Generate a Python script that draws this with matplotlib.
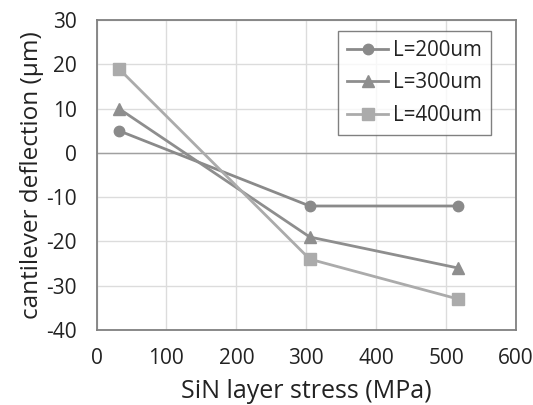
import matplotlib.pyplot as plt
import matplotlib.ticker as mticker
import numpy as np

plt.rcParams['font.family'] = ['Open Sans', 'DejaVu Sans']
plt.rcParams['axes.unicode_minus'] = False

# data
stress = [32, 305, 517]
defl_200 = [5, -12, -12]
defl_300 = [10, -19, -26]
defl_400 = [19, -24, -33]
labels = ['L=200um', 'L=300um', 'L=400um']

fig = plt.figure(figsize=(5.33, 4.05), dpi=100)
ax = fig.add_axes([96.5 / 533, 1 - 330 / 405, (516 - 96.5) / 533, (330 - 20) / 405])

ax.plot(stress, defl_200, color='#8a8a8a', lw=2.0, marker='o', ms=7.5, label=labels[0], zorder=3)
ax.plot(stress, defl_300, color='#8e8e8e', lw=2.0, marker='^', ms=8.5, label=labels[1], zorder=3)
ax.plot(stress, defl_400, color='#ababab', lw=2.0, marker='s', ms=8.5, label=labels[2], zorder=3)

ax.set_xlim(0, 600)
ax.set_ylim(-40, 30)
ax.set_xticks(np.arange(0, 601, 100))
ax.set_yticks(np.arange(-40, 31, 10))
ax.yaxis.set_major_formatter(mticker.FuncFormatter(lambda v, p: '%d' % v))
ax.grid(True, color='#dcdcdc', lw=1)
ax.axhline(0, color='#a0a0a0', lw=1, zorder=1)
ax.set_axisbelow(True)

for s in ax.spines.values():
    s.set_color('#808080')
    s.set_linewidth(1.3)

ax.tick_params(length=0, labelsize=15, colors='#222222')
ax.tick_params(axis='x', pad=13)
ax.tick_params(axis='y', pad=14)

ax.set_xlabel('SiN layer stress (MPa)', fontsize=18, color='#222222', labelpad=7)
ax.set_ylabel('cantilever deflection (\u00b5m)', fontsize=17.5, color='#222222', labelpad=2)

leg = ax.legend(loc='upper right', bbox_to_anchor=(0.94, 0.965), fontsize=14.8,
                frameon=True, fancybox=False, handlelength=1.95, handletextpad=0.25,
                borderpad=0.45, labelspacing=0.55, borderaxespad=0)
leg.get_frame().set_edgecolor('#606060')
leg.get_frame().set_linewidth(1.0)
for t in leg.get_texts():
    t.set_color('#222222')

fig.savefig('out.png', dpi=100)
